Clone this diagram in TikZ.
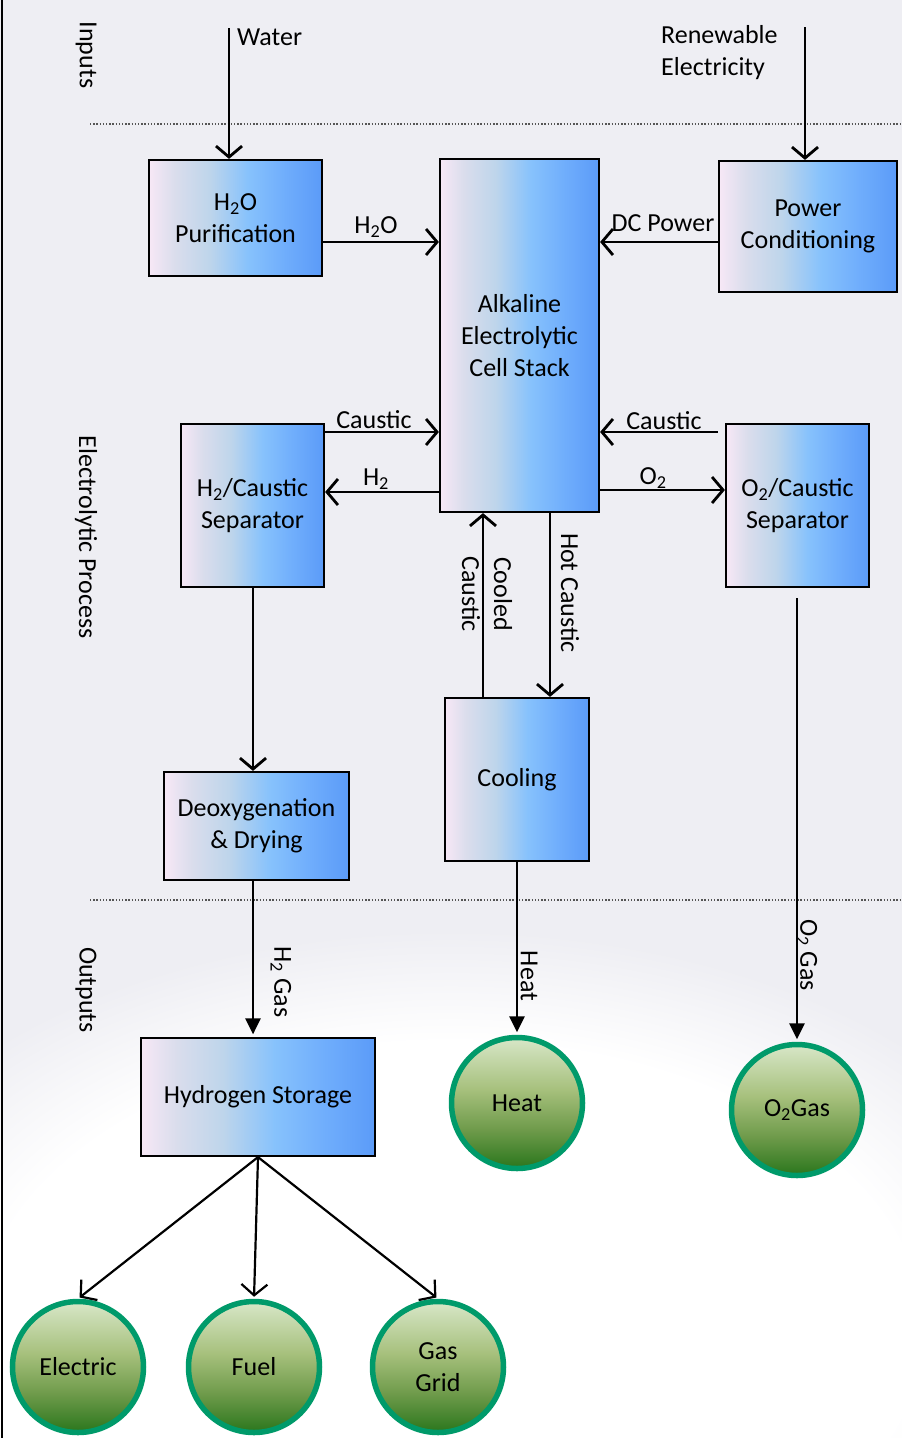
\documentclass[tikz,border=0pt]{standalone}
\usepackage{fontspec}
\setmainfont{Carlito}
\usetikzlibrary{arrows.meta,calc}
\definecolor{bgc}{HTML}{EEEEF3}
\definecolor{bxa}{HTML}{F7E8F6}
\definecolor{bxb}{HTML}{DADDEC}
\definecolor{bxc}{HTML}{BED5EB}
\definecolor{bxd}{HTML}{87C2FC}
\definecolor{bxe}{HTML}{70AEFC}
\definecolor{bxf}{HTML}{5B9BF8}
\definecolor{gra}{HTML}{D8E7C8}
\definecolor{grb}{HTML}{A6C07C}
\definecolor{grc}{HTML}{6F9B4B}
\definecolor{grd}{HTML}{2A761C}
\definecolor{gborder}{HTML}{009A6A}
\definecolor{dotc}{HTML}{555555}
\pgfdeclarehorizontalshading{boxsh}{100bp}{color(0bp)=(bxa); color(25bp)=(bxa); color(32.5bp)=(bxb); color(42.5bp)=(bxc); color(53.5bp)=(bxd); color(64bp)=(bxe); color(75bp)=(bxf); color(100bp)=(bxf)}
\pgfdeclareverticalshading{circsh}{100bp}{color(0bp)=(grd); color(25bp)=(grd); color(40bp)=(grc); color(55bp)=(grb); color(75bp)=(gra); color(100bp)=(gra)}
\pgfdeclareradialshading{cloudsh}{\pgfpoint{0bp}{0bp}}{color(0bp)=(white); color(18bp)=(white); color(25bp)=(bgc); color(50bp)=(bgc)}
\tikzset{
  pbox/.style={draw=black, line width=2.2pt, shading=boxsh, inner sep=0pt, align=center},
  gcirc/.style={circle, draw=gborder, line width=5.5pt, shading=circsh, minimum size=131pt, inner sep=0pt, align=center},
  arr/.style={line width=2.8pt, -{Straight Barb[length=11pt,width=26pt]}},
  arrtwo/.style={line width=2.2pt, -{Straight Barb[length=11pt,width=26pt]}, shorten >=2pt},
  farr/.style={line width=2.8pt, -{Triangle[length=16pt,width=15pt]}, shorten >=2.5pt},
  lbl/.style={inner sep=0pt, align=center},
  rlbl/.style={inner sep=0pt, align=center, rotate=-90},
  dotline/.style={draw=dotc, line width=1.3pt, dash pattern=on 1.3pt off 1.9pt}
}
\begin{document}
\begin{tikzpicture}[x=1pt,y=-1pt, font=\fontsize{26}{32}\selectfont]
\useasboundingbox (0,0) rectangle (902,1438);
\clip (0,0) rectangle (902,1438);
\fill[bgc] (0,0) rectangle (902,1438);
\shade[shading=cloudsh] (450,1330) ellipse [x radius=650pt, y radius=400pt];
\draw[line width=2.5pt] (2,0) -- (2,1438);
\draw[dotline] (90,124) -- (902,124);
\draw[dotline] (90,900) -- (902,900);

% section labels
\node[rlbl] (inputs) at (86,55) {Inputs};
\node[rlbl] (elproc) at (86,537) {Electrolytic Process};
\node[rlbl] (outputs) at (86,990) {Outputs};

% boxes
\node[pbox, minimum width=173pt, minimum height=116pt] (h2op) at (235.5,218) {H\textsubscript{2}O\\Purification};
\node[pbox, minimum width=159pt, minimum height=353pt] (stack) at (519.5,335.5) {Alkaline\\Electrolytic\\Cell Stack};
\node[pbox, minimum width=178pt, minimum height=131pt] (power) at (808,226.5) {Power\\Conditioning};
\node[pbox, minimum width=143pt, minimum height=163pt] (h2sep) at (252.5,505.5) {H\textsubscript{2}/Caustic\\Separator};
\node[pbox, minimum width=143pt, minimum height=163pt] (o2sep) at (797.5,505.5) {O\textsubscript{2}/Caustic\\Separator};
\node[pbox, minimum width=144pt, minimum height=163pt] (cool) at (517,779.5) {Cooling};
\node[pbox, minimum width=185pt, minimum height=108pt] (deox) at (256.5,826) {Deoxygenation\\\& Drying};
\node[pbox, minimum width=234pt, minimum height=118pt] (storage) at (258,1097) {Hydrogen Storage};

% circles
\node[gcirc] (heatc) at (517,1103) {Heat};
\node[gcirc] (o2gas) at (797,1110) {O\textsubscript{2}Gas};
\node[gcirc] (elec) at (78,1367) {Electric};
\node[gcirc] (fuel) at (254,1367) {Fuel};
\node[gcirc] (grid) at (438,1367) {Gas\\Grid};

% inputs
\coordinate (wtop) at (229,28);
\coordinate (retop) at (805,27);
\draw[arr] (wtop) -- (wtop |- h2op.north);
\draw[arr] (retop) -- (retop |- power.north);
\node[lbl, anchor=west] (wlbl) at (237,37) {Water};
\node[lbl, anchor=west, align=left] (relbl) at (661,53) {Renewable\\Electricity};

% process connectors
\draw[arr] (h2op.east |- 0,242) -- (stack.west |- 0,242);
\node[lbl] (h2olbl) at (376,227) {H\textsubscript{2}O};
\draw[arr] (power.west |- 0,242) -- (stack.east |- 0,242);
\node[lbl] (dclbl) at (663,223) {DC Power};
\draw[arr] (h2sep.east |- 0,432) -- (stack.west |- 0,432);
\node[lbl] (cl1) at (374,420) {Caustic};
\draw[arr] (stack.west |- 0,492) -- (h2sep.east |- 0,492);
\node[lbl] (h2lbl) at (376,479) {H\textsubscript{2}};
\draw[arr] ($(o2sep.west |- 0,432)+(-7,0)$) -- (stack.east |- 0,432);
\node[lbl] (cl2) at (664,421) {Caustic};
\draw[arr] (stack.east |- 0,490) -- (o2sep.west |- 0,490);
\node[lbl] (o2lbl) at (653,478) {O\textsubscript{2}};
\draw[arr] (h2sep.south -| 253,0) -- (253,0 |- deox.north);
\draw[arr] (483,0 |- cool.north) -- (483,0 |- stack.south);
\node[rlbl] (cclbl) at (487,594) {Cooled\\Caustic};
\draw[arr] (550,0 |- stack.south) -- (550,0 |- cool.north);
\node[rlbl] (hclbl) at (570,593) {Hot Caustic};

% outputs
\draw[farr] ($(o2gas.north |- o2sep.south)+(0,10)$) -- (o2gas.north);
\node[rlbl] (o2glbl) at (807,955) {O\textsubscript{2} Gas};
\draw[farr] (cool.south) -- (heatc.north);
\node[rlbl] (heatlbl) at (529,976) {Heat};
\draw[farr] (253,0 |- deox.south) -- (253,0 |- storage.north);
\node[rlbl] (h2glbl) at (281,982) {H\textsubscript{2} Gas};
\draw[arrtwo] (storage.south) -- (elec.north);
\draw[arrtwo] (storage.south) -- (fuel.north);
\draw[arrtwo] (storage.south) -- (grid.north);
\end{tikzpicture}
\end{document}
